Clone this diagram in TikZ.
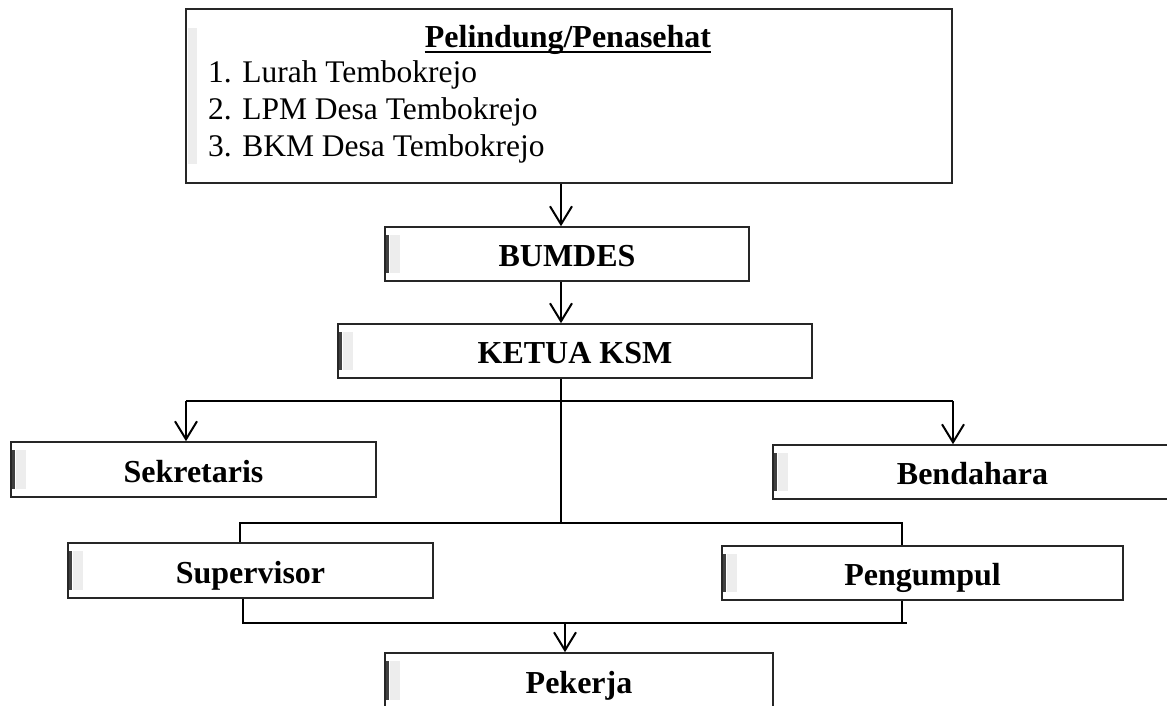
\documentclass[tikz,border=0pt]{standalone}
\usepackage{fontspec}
\setmainfont{Liberation Serif}
\usetikzlibrary{arrows.meta}
\begin{document}
\begin{tikzpicture}[x=1pt,y=-1pt,
  box/.style={draw=black!85, line width=1.6pt, rectangle, inner sep=0pt,
    font=\fontsize{32}{36}\selectfont\bfseries, text height=25pt, text depth=0pt},
  conn/.style={draw=black, line width=2pt},
  arr/.style={conn, -{Straight Barb[length=18pt,width=22pt]}},
  markline/.style={draw=black!75, line width=2.5pt},
  markfill/.style={fill=black!7},
  listtext/.style={inner sep=0pt, anchor=base west, font=\fontsize{31.5}{36}\selectfont}
]
\useasboundingbox (0,0) rectangle (1167,706);

% boxes
\node[box, minimum width=766pt, minimum height=174pt] (top) at (569,96) {};
\node[box, minimum width=364pt, minimum height=54pt] (bumdes) at (567,254) {BUMDES};
\node[box, minimum width=474pt, minimum height=54pt] (ketua) at (575,351) {KETUA KSM};
\node[box, minimum width=365pt, minimum height=55pt] (sek) at (193.5,469.5) {Sekretaris};
\node[box, minimum width=399pt, minimum height=54pt] (bend) at (972.5,472) {Bendahara};
\node[box, minimum width=365pt, minimum height=55pt] (sup) at (250.5,570.5) {Supervisor};
\node[box, minimum width=401pt, minimum height=54pt] (peng) at (922.5,573) {Pengumpul};
\node[box, minimum width=388pt, minimum height=55pt] (pek) at (579,680.5) {Pekerja};

% texts of the top box
\node[inner sep=0pt, anchor=base, font=\fontsize{32}{36}\selectfont\bfseries] (title) at (568,48) {Pelindung/Penasehat};
\draw[line width=2.6pt] ([yshift=-4pt]title.base west) -- ([yshift=-4pt]title.base east);
\node[listtext] (l1) at (208,83) {1. Lurah Tembokrejo};
\node[listtext] (l2) at (208,120) {2. LPM Desa Tembokrejo};
\node[listtext] (l3) at (208,157) {3. BKM Desa Tembokrejo};

% scan marks inside left edges
\fill[markfill] ([xshift=3pt,yshift=-20pt]top.north west) rectangle ([xshift=12pt,yshift=20pt]top.south west);
\foreach \n in {bumdes,ketua,sek,bend,sup,peng,pek} {
  \fill[markfill] ([xshift=6pt,yshift=-9pt]\n.north west) rectangle ([xshift=16pt,yshift=9pt]\n.south west);
  \draw[markline] ([xshift=3.5pt,yshift=-9pt]\n.north west) -- ([xshift=3.5pt,yshift=9pt]\n.south west);
}

% connector coordinates
\coordinate (a1) at (561,0);
\coordinate (h1l) at (186,401);
\coordinate (h1r) at (953,401);
\coordinate (h2l) at (240,523);
\coordinate (h2r) at (902,523);
\coordinate (h3l) at (243,623);
\coordinate (h3r) at (902,623);
\coordinate (h3e) at (907,623);
\coordinate (h3m) at (565,623);

% connectors
\draw[arr] (top.south -| a1) -- (bumdes.north -| a1);
\draw[arr] (bumdes.south -| a1) -- (ketua.north -| a1);
\draw[conn] (ketua.south -| a1) -- (a1 |- h2l);
\draw[conn] (h1l) -- (h1r);
\draw[arr] (h1l) -- (sek.north -| h1l);
\draw[arr] (h1r) -- (bend.north -| h1r);
\draw[conn] (sup.north -| h2l) -- (h2l) -- (h2r) -- (peng.north -| h2r);
\draw[conn] (sup.south -| h3l) -- (h3l) -- (h3e);
\draw[conn] (peng.south -| h3r) -- (h3r);
\draw[arr] (h3m) -- (pek.north -| h3m);
\end{tikzpicture}
\end{document}
